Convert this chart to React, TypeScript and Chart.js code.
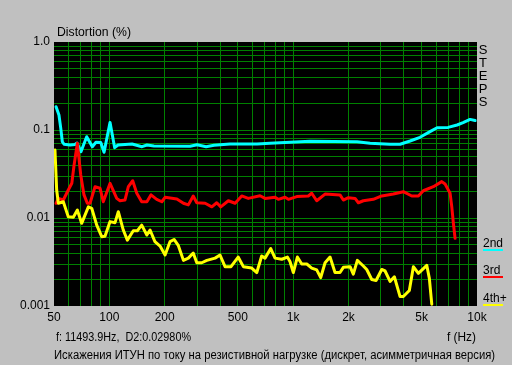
import React, { useEffect, useRef } from "react";
import { Chart, registerables } from "chart.js";

Chart.register(...registerables);

const cyanFreq = [51.3, 53.2, 54.4, 55.5, 56.7, 61.1, 65.0, 66.7, 70.1, 75.3, 80.8, 84.6, 89.8, 93.6, 100.9, 106.9, 111.5, 132.9, 150.6, 160.3, 175, 275, 300, 336, 371, 453, 636, 748, 961, 1236, 2226, 2620, 3366, 3815, 4324, 4898, 5551, 6064, 6963, 7793, 8402, 9169, 9763];
const cyanVals = [0.184, 0.148, 0.105, 0.0736, 0.0688, 0.0676, 0.0685, 0.0711, 0.0567, 0.0839, 0.0646, 0.0725, 0.072, 0.0558, 0.122, 0.063, 0.0676, 0.0693, 0.0646, 0.0676, 0.0658, 0.0653, 0.068, 0.0646, 0.067, 0.0693, 0.0693, 0.0706, 0.0725, 0.0744, 0.0737, 0.0706, 0.0688, 0.0688, 0.075, 0.0826, 0.0957, 0.106, 0.107, 0.114, 0.121, 0.132, 0.128];

const redFreq = [51.3, 52.8, 56.2, 59.8, 62.5, 64.3, 67.0, 69.9, 72.8, 75.9, 78.5, 83.6, 89, 92.7, 100.9, 109.7, 114.3, 121.6, 126.9, 134, 141, 150, 160, 168.6, 181, 193, 201, 233, 253, 269, 286, 299, 332, 361, 384, 404, 444, 483, 525, 570, 660, 703, 797, 830, 903, 942, 1046, 1209, 1262, 1343, 1491, 1798, 1875, 1996, 2171, 2263, 2408, 2728, 3033, 3507, 3977, 4416, 4798, 5106, 5789, 6430, 6705, 7138, 7292, 7440, 7599];
const redVals = [0.0147, 0.0167, 0.016, 0.0208, 0.0248, 0.040, 0.0706, 0.0308, 0.0183, 0.0147, 0.0147, 0.0227, 0.0218, 0.0153, 0.0248, 0.0167, 0.0157, 0.016, 0.0227, 0.0265, 0.0191, 0.0153, 0.0153, 0.0183, 0.0163, 0.0153, 0.0172, 0.0164, 0.0147, 0.0141, 0.0178, 0.0149, 0.0147, 0.0134, 0.0149, 0.0134, 0.0157, 0.0147, 0.0178, 0.0167, 0.0179, 0.0167, 0.0172, 0.0163, 0.0172, 0.0163, 0.0175, 0.0178, 0.0191, 0.0157, 0.0187, 0.0183, 0.016, 0.017, 0.0167, 0.0149, 0.0157, 0.0163, 0.0178, 0.0187, 0.0199, 0.0178, 0.0178, 0.0204, 0.0227, 0.0259, 0.0243, 0.0191, 0.0134, 0.0087, 0.00588];

const yellowFreq = [50.6, 51.7, 52.8, 56.2, 59.8, 63.7, 67, 70.7, 76.9, 80.2, 85.4, 90.9, 94.7, 100.9, 107.4, 111.9, 119.1, 125.3, 135, 142, 150, 160, 166.5, 177, 188.7, 201, 214, 225, 237, 253, 269, 286, 299, 318, 339, 376, 400, 426, 459, 502, 536, 595, 634, 674, 703, 755, 797, 867, 930, 961, 1002, 1054, 1113, 1186, 1262, 1343, 1412, 1491, 1587, 1689, 1798, 1875, 2039, 2124, 2234, 2408, 2513, 2676, 2824, 3033, 3162, 3366, 3552, 3815, 3977, 4285, 4507, 4798, 5330, 5505, 5675];
const yellowVals = [0.0593, 0.0208, 0.0147, 0.0153, 0.0103, 0.0102, 0.0123, 0.0087, 0.0134, 0.0129, 0.0083, 0.00613, 0.0062, 0.0091, 0.00885, 0.0118, 0.0073, 0.0056, 0.00717, 0.00717, 0.0083, 0.0064, 0.0073, 0.0054, 0.0048, 0.0038, 0.0054, 0.0057, 0.0049, 0.0033, 0.0035, 0.004, 0.0031, 0.0031, 0.0033, 0.0035, 0.0038, 0.0028, 0.0028, 0.0036, 0.0028, 0.0027, 0.0024, 0.0037, 0.0035, 0.0045, 0.0035, 0.0034, 0.0036, 0.0032, 0.0024, 0.0036, 0.003, 0.003, 0.0027, 0.00257, 0.0021, 0.0031, 0.0036, 0.0024, 0.0024, 0.00275, 0.0028, 0.0023, 0.0033, 0.00285, 0.0026, 0.002, 0.00195, 0.0026, 0.0025, 0.0019, 0.00215, 0.00128, 0.00128, 0.0015, 0.0028, 0.00235, 0.0029, 0.00206, 0.00105];

const xGridTicks = [50, 60, 70, 80, 90, 100, 200, 300, 400, 500, 600, 700, 800, 900, 1000, 2000, 3000, 4000, 5000, 6000, 7000, 8000, 9000, 10000];
const xLabelValues = [50, 100, 200, 500, 1000, 2000, 5000, 10000];
const xLabels = ["50", "100", "200", "500", "1k", "2k", "5k", "10k"];

const yGridTicks = [0.001, 0.002, 0.003, 0.004, 0.005, 0.006, 0.007, 0.008, 0.009, 0.01, 0.02, 0.03, 0.04, 0.05, 0.06, 0.07, 0.08, 0.09, 0.1, 0.2, 0.3, 0.4, 0.5, 0.6, 0.7, 0.8, 0.9, 1];
const yLabelValues = [0.001, 0.01, 0.1, 1];
const yLabels = ["0.001", "0.01", "0.1", "1.0"];

const seriesNames = ["2nd", "3rd", "4th+"];
const seriesColors = ["#00ffff", "#ff0000", "#ffff00"];

const titleText = "Distortion (%)";
const xAxisTitle = "f (Hz)";
const cursorText = "f: 11493.9Hz,  D2:0.02980%";
const captionText = "Искажения ИТУН по току на резистивной нагрузке (дискрет, асимметричная версия)";
const sideLetters = ["S", "T", "E", "P", "S"];

const FONT = "'Liberation Sans', Arial, sans-serif";

function same(a: number, b: number) {
  return Math.abs(a - b) / b < 1e-6;
}

function labelFor(v: number, vals: number[], labels: string[]) {
  for (let i = 0; i < vals.length; i++) if (same(v, vals[i])) return labels[i];
  return "";
}

function fitText(ctx: CanvasRenderingContext2D, text: string, x: number, y: number, w: number) {
  const m = ctx.measureText(text).width;
  const k = w / m;
  ctx.save();
  ctx.translate(x, y);
  ctx.scale(k, 1);
  ctx.fillText(text, 0, 0);
  ctx.restore();
}

const bgPlugin = {
  id: "bgPlugin",
  beforeDraw(chart: any) {
    const { ctx, chartArea } = chart;
    ctx.save();
    ctx.fillStyle = "#c0c0c0";
    ctx.fillRect(0, 0, chart.width, chart.height);
    ctx.fillStyle = "#000000";
    ctx.fillRect(chartArea.left, chartArea.top, chartArea.right - chartArea.left, chartArea.bottom - chartArea.top);
    ctx.restore();
  },
  afterDraw(chart: any) {
    const { ctx } = chart;
    ctx.save();
    ctx.fillStyle = "#000";
    ctx.font = `12px ${FONT}`;
    ctx.textBaseline = "alphabetic";
    ctx.textAlign = "left";
    fitText(ctx, titleText, 57, 36, 74);
    fitText(ctx, cursorText, 56, 341, 135);
    fitText(ctx, captionText, 54, 359, 441);
    fitText(ctx, xAxisTitle, 447, 341, 29);
    ctx.font = `13px ${FONT}`;
    ctx.textAlign = "center";
    sideLetters.forEach((l, i) => ctx.fillText(l, 483, 54 + i * 13));
    ctx.font = `12px ${FONT}`;
    ctx.textAlign = "left";
    const legendY = [247, 274, 302];
    seriesNames.forEach((n, i) => {
      ctx.fillStyle = "#000";
      ctx.fillText(n, 483, legendY[i]);
      ctx.fillStyle = seriesColors[i];
      ctx.fillRect(483, legendY[i] + 2, 20, 2);
    });
    ctx.restore();
  },
};

export default function App() {
  const ref = useRef<HTMLCanvasElement | null>(null);
  useEffect(() => {
    document.body.style.margin = "0";
    if (!ref.current) return;
    const mk = (f: number[], v: number[]) => f.map((x, i) => ({ x, y: v[i] }));
    const chart = new Chart(ref.current, {
      type: "line",
      data: {
        datasets: [
          { label: seriesNames[0], data: mk(cyanFreq, cyanVals), borderColor: seriesColors[0], order: 3 },
          { label: seriesNames[1], data: mk(redFreq, redVals), borderColor: seriesColors[1], order: 2 },
          { label: seriesNames[2], data: mk(yellowFreq, yellowVals), borderColor: seriesColors[2], order: 1 },
        ].map((d) => ({ ...d, borderWidth: 3, pointRadius: 0, tension: 0, fill: false, borderJoinStyle: "round" as const, borderCapStyle: "round" as const })),
      },
      options: {
        animation: false,
        responsive: false,
        maintainAspectRatio: false,
        events: [],
        layout: { padding: { left: 0, right: 35, top: 42, bottom: 0 } },
        plugins: { legend: { display: false }, title: { display: false }, tooltip: { enabled: false } },
        scales: {
          x: {
            type: "logarithmic",
            min: 50,
            max: 10000,
            afterFit: (s: any) => { s.height = 59; },
            afterBuildTicks: (s: any) => { s.ticks = xGridTicks.map((value) => ({ value })); },
            border: { display: false },
            grid: {
              drawTicks: false,
              lineWidth: 1,
              color: (c: any) => (c.tick && (same(c.tick.value, 50) || same(c.tick.value, 10000)) ? "rgba(0,0,0,0)" : "#008000"),
            },
            ticks: {
              autoSkip: false,
              maxRotation: 0,
              minRotation: 0,
              padding: 4,
              color: "#000",
              font: { family: FONT, size: 12 },
              callback: (v: any) => labelFor(Number(v), xLabelValues, xLabels),
            },
          },
          y: {
            type: "logarithmic",
            min: 0.001,
            max: 1,
            afterFit: (s: any) => { s.width = 54; },
            afterBuildTicks: (s: any) => { s.ticks = yGridTicks.map((value) => ({ value })); },
            border: { display: false },
            grid: {
              drawTicks: false,
              lineWidth: 1,
              color: (c: any) => (c.tick && (same(c.tick.value, 0.001) || same(c.tick.value, 1)) ? "rgba(0,0,0,0)" : "#008000"),
            },
            ticks: {
              autoSkip: false,
              padding: 4,
              color: "#000",
              font: { family: FONT, size: 12 },
              callback: (v: any) => labelFor(Number(v), yLabelValues, yLabels),
            },
          },
        },
      },
      plugins: [bgPlugin],
    });
    return () => chart.destroy();
  }, []);
  return <canvas ref={ref} width={512} height={365} style={{ display: "block", width: 512, height: 365 }} />;
}
